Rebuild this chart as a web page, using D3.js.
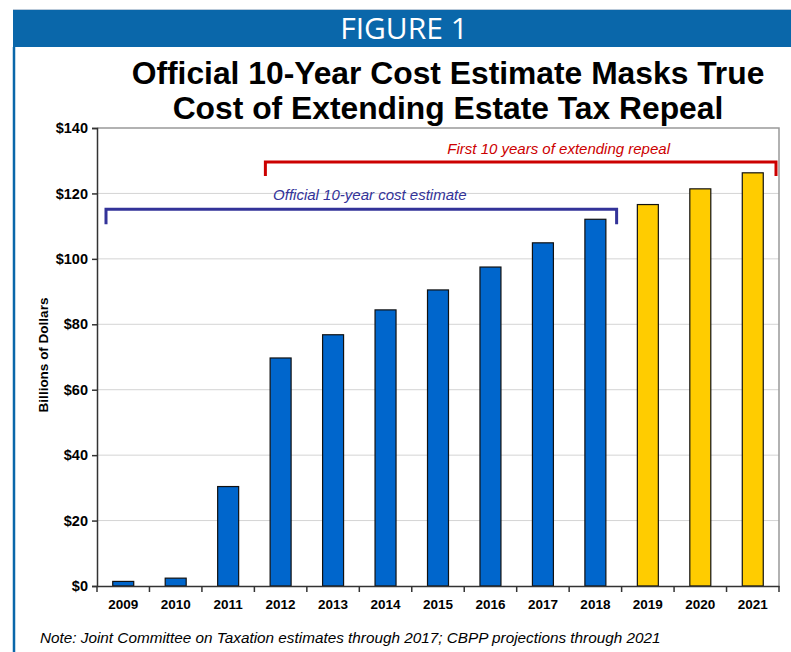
<!DOCTYPE html>
<html>
<head>
<meta charset="utf-8">
<script src="https://cdn.jsdelivr.net/npm/d3@7"></script>
<style>
  body { margin: 0; background: #fff; }
  svg { display: block; font-family: "Liberation Sans", Arial, sans-serif; }
</style>
</head>
<body>
<div id="chart"></div>
<script>
// data
var years = ["2009", "2010", "2011", "2012", "2013", "2014", "2015", "2016", "2017", "2018", "2019", "2020", "2021"];
var costs = [1.4, 2.4, 30.4, 69.7, 76.8, 84.4, 90.5, 97.5, 104.9, 112.1, 116.6, 121.4, 126.3];
var projected = [false, false, false, false, false, false, false, false, false, false, true, true, true];
var yTicks = [0, 20, 40, 60, 80, 100, 120, 140];

var W = 791, H = 652;
var margin = { top: 128, right: 12, bottom: 66, left: 97 },
    width = W - margin.left - margin.right,
    height = H - margin.top - margin.bottom;

var svg = d3.select("#chart").append("svg")
    .attr("width", W)
    .attr("height", H);

// header bar
svg.append("line")
    .attr("x1", 13).attr("x2", W).attr("y1", 9.5).attr("y2", 9.5)
    .attr("stroke", "#b9c9d9").attr("stroke-width", 1);
svg.append("rect")
    .attr("x", 13).attr("y", 10)
    .attr("width", W - 13).attr("height", 37)
    .attr("fill", "#0a67aa");
svg.append("line")
    .attr("x1", 14).attr("x2", 14).attr("y1", 47).attr("y2", H)
    .attr("stroke", "#0a67aa").attr("stroke-width", 2.5);
svg.append("text")
    .attr("x", 404).attr("y", 39)
    .attr("text-anchor", "middle")
    .style("font-family", "'Open Sans', 'Noto Sans', sans-serif")
    .style("font-size", "30px")
    .attr("fill", "#fff")
    .text("FIGURE 1");

// title
var title = ["Official 10-Year Cost Estimate Masks True", "Cost of Extending Estate Tax Repeal"];
svg.selectAll(".title").data(title).enter().append("text")
    .attr("class", "title")
    .attr("x", 448)
    .attr("y", function(d, i) { return 84 + i * 35; })
    .attr("text-anchor", "middle")
    .style("font-size", "31.8px")
    .style("font-weight", "bold")
    .attr("fill", "#000")
    .text(function(d) { return d; });

var g = svg.append("g").attr("transform", "translate(" + margin.left + "," + margin.top + ")");

var x = d3.scaleBand().domain(years).range([0, width]).paddingInner(0.6).paddingOuter(0.3);
var xb = d3.scaleBand().domain(years).range([0, width]); // full bands for ticks / brackets
var y = d3.scaleLinear().domain([0, 140]).range([height, 0]);

// gridlines
g.selectAll(".grid").data(yTicks.slice(1, -1)).enter().append("line")
    .attr("x1", 0).attr("x2", width)
    .attr("y1", function(d) { return y(d); }).attr("y2", function(d) { return y(d); })
    .attr("stroke", "#d4d4d4").attr("stroke-width", 1);

// plot frame top and right
g.append("path")
    .attr("d", "M0," + y(140) + "H" + width + "V" + height)
    .attr("fill", "none").attr("stroke", "#999").attr("stroke-width", 1.5);

// bars
g.selectAll(".bar").data(years).enter().append("rect")
    .attr("class", "bar")
    .attr("x", function(d) { return x(d); })
    .attr("y", function(d, i) { return y(costs[i]); })
    .attr("width", x.bandwidth())
    .attr("height", function(d, i) { return height - y(costs[i]); })
    .attr("fill", function(d, i) { return projected[i] ? "#ffcc00" : "#0066cc"; })
    .attr("stroke", "#111").attr("stroke-width", 1.2);

// y axis
var yAxis = g.append("g")
    .call(d3.axisLeft(y).tickValues(yTicks).tickSize(5).tickPadding(4).tickFormat(function(d) { return "$" + d; }));
yAxis.select(".domain").attr("stroke", "#333").attr("stroke-width", 1.5);
yAxis.selectAll(".tick line").attr("stroke", "#333").attr("stroke-width", 1.5);
yAxis.selectAll("text")
    .style("font-family", "'Liberation Sans', Arial, sans-serif")
    .style("font-size", "14.5px").style("font-weight", "bold").attr("fill", "#000");

// x axis
var xAxis = g.append("g").attr("transform", "translate(0," + height + ")")
    .call(d3.axisBottom(x).tickSize(0).tickPadding(13));
xAxis.select(".domain").attr("stroke", "#333").attr("stroke-width", 1.5);
xAxis.selectAll("text")
    .style("font-family", "'Liberation Sans', Arial, sans-serif")
    .style("font-size", "13.5px").style("font-weight", "bold").attr("fill", "#000");
g.selectAll(".xtick").data(years.concat(["end"])).enter().append("line")
    .attr("x1", function(d, i) { return i * xb.bandwidth(); })
    .attr("x2", function(d, i) { return i * xb.bandwidth(); })
    .attr("y1", height).attr("y2", height + 6)
    .attr("stroke", "#333").attr("stroke-width", 1.5);

// y label
svg.append("text")
    .attr("transform", "translate(48,355)rotate(-90)")
    .attr("text-anchor", "middle")
    .style("font-size", "13.5px").style("font-weight", "bold")
    .text("Billions of Dollars");

// brackets
function bracket(x0, x1, yTop, drop, color) {
    g.append("path")
        .attr("d", "M" + x0 + "," + (yTop + drop) + "V" + yTop + "H" + x1 + "V" + (yTop + drop))
        .attr("fill", "none").attr("stroke", color).attr("stroke-width", 3);
}
var blueTop = y(115.2), redTop = y(129.6);
bracket(xb("2009") + 9, xb("2018") + xb.bandwidth() - 5, blueTop, 15, "#333399");
bracket(xb("2012") + 11, xb("2021") + xb.bandwidth() - 3, redTop, 14, "#cc0000");

g.append("text")
    .attr("x", xb("2014") + xb.bandwidth() * 0.2)
    .attr("y", blueTop - 9)
    .attr("text-anchor", "middle")
    .style("font-size", "15px").style("font-style", "italic")
    .attr("fill", "#333399")
    .text("Official 10-year cost estimate");
g.append("text")
    .attr("x", xb("2017") + xb.bandwidth() * 0.8)
    .attr("y", redTop - 8)
    .attr("text-anchor", "middle")
    .style("font-size", "15px").style("font-style", "italic")
    .attr("fill", "#cc0000")
    .text("First 10 years of extending repeal");

// note
svg.append("text")
    .attr("x", 40).attr("y", 643)
    .style("font-size", "15.3px").style("font-style", "italic")
    .text("Note: Joint Committee on Taxation estimates through 2017; CBPP projections through 2021");
</script>
</body>
</html>
